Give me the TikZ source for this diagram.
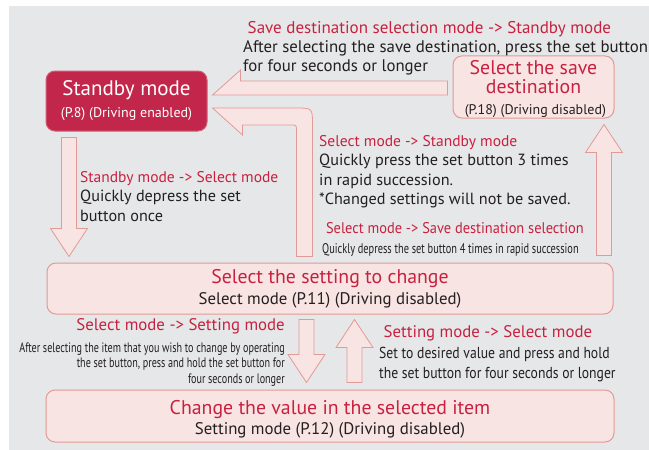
\documentclass[tikz,border=0pt]{standalone}
\usepackage{fontspec}
\setmainfont{PT Sans}
\newfontfamily\narrowfont[FakeStretch=0.74]{PT Sans}
\newfontfamily\semifont[FakeStretch=0.86]{PT Sans}
\newfontfamily\midfont[FakeStretch=0.93]{PT Sans}
\usepackage{tikz}
\usetikzlibrary{calc}

\definecolor{bggray}{HTML}{E6E7E8}
\definecolor{crimson}{HTML}{C2274B}
\definecolor{modered}{HTML}{C8213F}
\definecolor{pinkfill}{HTML}{F8E4E3}
\definecolor{pinkline}{HTML}{E29A97}
\definecolor{txtdark}{HTML}{231F20}

\tikzset{
  modebox/.style={draw=pinkline, fill=pinkfill, rounded corners=9pt, line width=1pt, align=center, inner sep=0pt},
  blockarrow/.style={draw=pinkline, fill=pinkfill, line width=0.8pt, line join=miter},
  note/.style={inner sep=0pt, align=left, text=txtdark, font=\fontsize{16.2}{19.5}\selectfont},
}
\newcommand{\headfont}[1][15.5]{\normalfont\color{modered}\fontsize{#1}{19.5}\selectfont}
\newcommand{\boxfont}{\color{modered}\fontsize{19.8}{19}\selectfont}
\newcommand{\subfont}[1][16.8]{\color{txtdark}\fontsize{#1}{17}\selectfont}

% straight block arrow, tail -> tip
\newcommand{\vblock}[2]{%
  \draw[blockarrow] let \p1=(#1), \p2=(#2), \p3=($(#2)!28pt!(#1)$) in
    (\x1-7.5pt,\y1)--(\x1-7.5pt,\y3)--(\x1-18.5pt,\y3)--(\x2,\y2)
    --(\x1+18.5pt,\y3)--(\x1+7.5pt,\y3)--(\x1+7.5pt,\y1)--cycle;}

\begin{document}
\begin{tikzpicture}[x=1pt,y=-1pt]

\useasboundingbox (0,0) rectangle (649,450);
\fill[bggray] (9,6) rectangle (649,450);

% the four modes
\node[modebox, fill=crimson, draw=crimson!75!white, text=white, minimum width=161pt, minimum height=60pt,
      font=\fontsize{21}{22}\selectfont] (standby) at (126.5,101)
  {Standby mode\\\fontsize{14}{16}\selectfont (P.8) (Driving enabled)};

\node[modebox, minimum width=161pt, minimum height=60pt, font=\fontsize{19.8}{19}\selectfont] (save) at (533.5,87)
  {\rule{0pt}{19pt}\boxfont Select the save\\\boxfont destination\\[2pt]\subfont[14] (P.18) (Driving disabled)};

\node[modebox, minimum width=566pt, minimum height=51pt, font=\fontsize{19.8}{21}\selectfont] (select) at (330,288.5)
  {\boxfont Select the setting to change\\\subfont Select mode (P.11) (Driving disabled)};

\node[modebox, minimum width=568pt, minimum height=52pt, font=\fontsize{19.8}{20.5}\selectfont] (change) at (330,416)
  {\rule{0pt}{21pt}\boxfont Change the value in the selected item\\\subfont Setting mode (P.12) (Driving disabled)};

% save destination -> standby (upper half arrow)
\coordinate (b1) at ($(save.west)+(-5,1)$);
\coordinate (b2) at ($(b1 -| standby.east)+(5,0)$);
\draw[blockarrow] let \p1=(b1), \p2=(b2) in
  (\x1,\y1+7pt)--(\x2+28pt,\y1+7pt)--(\x2+28pt,\y1+18pt)--(\x2,\y1-7pt)--(\x1,\y1-7pt)--cycle;

% select -> standby (lower half arrow, bent)
\coordinate (c1) at ($(select.north west)+(258,-6)$);
\coordinate (c2) at ($(standby.east)+(5,15.5)$);
\draw[blockarrow] let \p1=(c1), \p2=(c2) in
  (\x1-8pt,\y1)--(\x1-8pt,\y2-14.5pt) .. controls (\x1-8pt,\y2-8.5pt) .. (\x1-14pt,\y2-8.5pt)
  --(\x2+30pt,\y2-8.5pt)--(\x2+30pt,\y2-18.5pt)--(\x2,\y2+8.5pt)--(\x1-9pt,\y2+8.5pt)
  .. controls (\x1+8pt,\y2+8.5pt) .. (\x1+8pt,\y2-8.5pt)--(\x1+8pt,\y1)--cycle;

% standby -> select
\coordinate (a1) at ($(standby.south west)+(23.5,6)$);
\coordinate (a2) at ($(a1 |- select.north)+(0,-6)$);
\vblock{a1}{a2}

% select -> save destination
\coordinate (d1) at ($(select.north east)+(-9.5,-7)$);
\coordinate (d2) at ($(d1 |- save.south)+(0,6)$);
\vblock{d1}{d2}

% select -> setting
\coordinate (e1) at ($(select.south west)+(260,5)$);
\coordinate (e2) at ($(e1 |- change.north)+(0,-7)$);
\vblock{e1}{e2}

% setting -> select
\coordinate (f1) at ($(change.north west)+(309,-7)$);
\coordinate (f2) at ($(f1 |- select.south)+(0,5)$);
\vblock{f1}{f2}

% texts
\node[note, anchor=north west, font=\fontsize{16.8}{19}\selectfont] (noteTop) at (243,21)
  {{\headfont[17] Save destination selection mode -> Standby mode}\\
   After selecting the save destination, press the set button\\
   for four seconds or longer};

\node[note, anchor=north west] (noteDown) at (80,171)
  {{\headfont Standby mode -> Select mode}\\
   Quickly depress the set\\
   button once};

\node[note, anchor=north west] (noteBack) at (319,135)
  {{\headfont Select mode -> Standby mode}\\
   Quickly press the set button 3 times\\
   in rapid succession.\\
   *Changed settings will not be saved.};

\node[note, anchor=north west, font=\narrowfont\fontsize{14}{20}\selectfont] (noteSave) at (322,222)
  {{\color{modered}\midfont\fontsize{15.5}{20}\selectfont\ Select mode -> Save destination selection}\\
   Quickly depress the set button 4 times in rapid succession};

\node[note, anchor=north east, align=right, font=\narrowfont\fontsize{13.7}{15.5}\selectfont] (noteSet) at (285,318.5)
  {{\headfont[16.8] Select mode -> Setting mode}\\[6pt]
   After selecting the item that you wish to change by operating\\
   the set button, press and hold the set button for\\
   four seconds or longer};

\node[note, anchor=north west, font=\semifont\fontsize{15.9}{19.5}\selectfont] (noteSel) at (379,325.5)
  {{\headfont[16.8] Setting mode -> Select mode}\\[1.5pt]
   Set to desired value and press and hold\\
   the set button for four seconds or longer};

\end{tikzpicture}
\end{document}
